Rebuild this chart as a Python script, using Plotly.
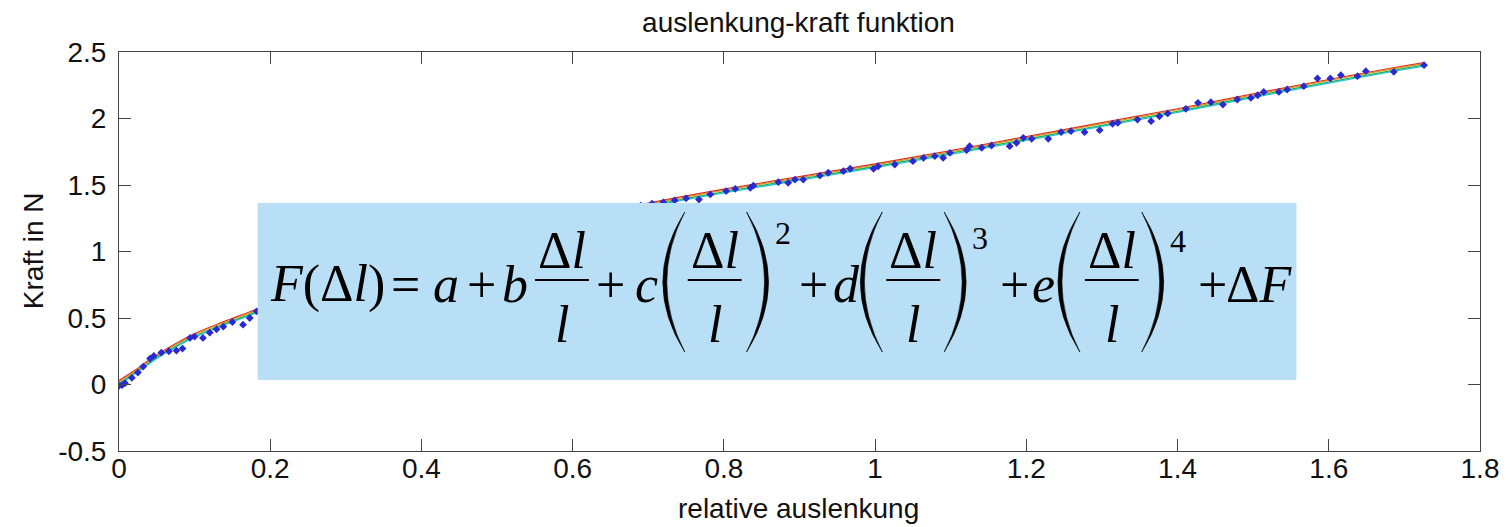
import plotly.graph_objects as go

# Measured deflection / force samples
x_data = [0.000, 0.004, 0.008, 0.017, 0.025, 0.032, 0.041, 0.046, 0.056, 0.066, 0.076, 0.084,
          0.094, 0.100, 0.111, 0.120, 0.129, 0.138, 0.150, 0.164, 0.173, 0.182,
          0.19, 0.21, 0.23, 0.25, 0.27, 0.29, 0.31, 0.33, 0.35, 0.37, 0.39, 0.41, 0.43,
          0.45, 0.47, 0.49, 0.51, 0.53, 0.55, 0.57, 0.59, 0.61, 0.63, 0.65, 0.67, 0.69,
          0.705, 0.720, 0.735, 0.750, 0.767, 0.782, 0.803, 0.815, 0.835, 0.839, 0.872, 0.885,
          0.894, 0.905, 0.927, 0.938, 0.958, 0.967, 0.998, 1.004, 1.026, 1.050, 1.064, 1.079,
          1.090, 1.099, 1.121, 1.125, 1.141, 1.154, 1.178, 1.187, 1.196, 1.207, 1.229, 1.246,
          1.259, 1.277, 1.297, 1.314, 1.321, 1.347, 1.365, 1.376, 1.387, 1.411, 1.427, 1.444,
          1.460, 1.479, 1.497, 1.506, 1.514, 1.534, 1.545, 1.567, 1.585, 1.602, 1.616, 1.638,
          1.649, 1.686, 1.726]
y_data = [-0.010, -0.005, 0.010, 0.050, 0.090, 0.135, 0.195, 0.215, 0.240, 0.250, 0.255, 0.270,
          0.350, 0.360, 0.350, 0.390, 0.415, 0.435, 0.470, 0.450, 0.500, 0.550,
          0.575, 0.605, 0.645, 0.675, 0.720, 0.750, 0.790, 0.820, 0.850, 0.890, 0.915, 0.955, 0.980,
          1.015, 1.050, 1.070, 1.105, 1.120, 1.160, 1.180, 1.215, 1.240, 1.260, 1.295, 1.310, 1.345,
          1.360, 1.370, 1.385, 1.400, 1.391, 1.429, 1.454, 1.471, 1.479, 1.496, 1.521, 1.516,
          1.541, 1.541, 1.571, 1.592, 1.604, 1.622, 1.622, 1.641, 1.654, 1.679, 1.704, 1.717,
          1.704, 1.742, 1.762, 1.792, 1.780, 1.797, 1.792, 1.817, 1.855, 1.847, 1.847, 1.897,
          1.905, 1.897, 1.912, 1.960, 1.968, 1.992, 1.980, 2.017, 2.038, 2.073, 2.118, 2.123,
          2.105, 2.143, 2.155, 2.175, 2.200, 2.200, 2.218, 2.243, 2.301, 2.301, 2.326, 2.318,
          2.356, 2.351, 2.401]

# Polynomial fit curves (evaluated on a grid)
fit_x = [0, 0.02, 0.04, 0.06, 0.08, 0.10, 0.13, 0.16, 0.20, 0.30, 0.40, 0.50, 0.60,
         0.70, 0.80, 0.90, 1.00, 1.10, 1.20, 1.30, 1.40, 1.50, 1.60, 1.70, 1.726]
fit_red = [0.030, 0.103, 0.183, 0.258, 0.323, 0.383, 0.453, 0.518, 0.603, 0.783, 0.948, 1.098,
           1.238, 1.363, 1.468, 1.563, 1.658, 1.758, 1.863, 1.968, 2.073, 2.185, 2.293, 2.396, 2.420]
fit_orange = [0.020, 0.096, 0.176, 0.251, 0.316, 0.376, 0.446, 0.511, 0.596, 0.776, 0.941, 1.091,
              1.231, 1.356, 1.461, 1.556, 1.651, 1.751, 1.856, 1.961, 2.066, 2.178, 2.286, 2.389, 2.413]
fit_green = [0.005, 0.084, 0.164, 0.239, 0.304, 0.364, 0.434, 0.499, 0.584, 0.764, 0.929, 1.079,
             1.219, 1.344, 1.449, 1.544, 1.639, 1.739, 1.844, 1.949, 2.054, 2.166, 2.274, 2.377, 2.401]
fit_cyan = [-0.005, 0.076, 0.156, 0.231, 0.296, 0.356, 0.426, 0.491, 0.576, 0.756, 0.921, 1.071,
            1.211, 1.336, 1.441, 1.536, 1.631, 1.731, 1.836, 1.941, 2.046, 2.158, 2.266, 2.369, 2.393]

x_ticks = [0, 0.2, 0.4, 0.6, 0.8, 1.0, 1.2, 1.4, 1.6, 1.8]
x_labels = ["0", "0.2", "0.4", "0.6", "0.8", "1", "1.2", "1.4", "1.6", "1.8"]
y_ticks = [-0.5, 0, 0.5, 1.0, 1.5, 2.0, 2.5]
y_labels = ["-0.5", "0", "0.5", "1", "1.5", "2", "2.5"]

W, H = 1511, 527
L, R, T, B = 119, 1483, 52, 451   # plot area in pixels


def px(x):
    return (x - L) / (R - L)


def py(y):
    return (B - y) / (B - T)


fig = go.Figure()
for vals, col in [(fit_red, "#e3261f"), (fit_orange, "#d2912a"),
                  (fit_green, "#2fae3c"), (fit_cyan, "#27c3d6")]:
    fig.add_trace(go.Scatter(x=fit_x, y=vals, mode="lines", line=dict(color=col, width=1.3, shape="spline"),
                             hoverinfo="skip", showlegend=False))
fig.add_trace(go.Scatter(x=x_data, y=y_data, mode="markers",
                         marker=dict(symbol="diamond", size=6, color="#2a2ad0", line=dict(width=0)),
                         showlegend=False))

sans = "Liberation Sans, Arial, sans-serif"
serif = "Liberation Serif, Times New Roman, serif"
axis_common = dict(showline=True, mirror="ticks", linecolor="#444444", linewidth=1,
                   ticks="inside", ticklen=12, tickcolor="#444444", showgrid=False, zeroline=False,
                   tickfont=dict(family=sans, size=28, color="#111111"))
fig.update_xaxes(range=[0, 1.8], tickvals=x_ticks, ticktext=x_labels, ticklabelstandoff=-8, **axis_common)
fig.update_yaxes(range=[-0.5, 2.5], tickvals=y_ticks, ticktext=y_labels, ticklabelstandoff=6, **axis_common)

shapes = []
annotations = []

# formula panel
shapes.append(dict(type="rect", xref="paper", yref="paper", x0=px(258), x1=px(1299),
                   y0=py(380), y1=py(203), fillcolor="#b8dff5", line=dict(width=0), layer="above"))

S = 52       # main formula size
SS = 32      # exponent size
K = 0.3375   # baseline-to-centre offset (em)


def txt(s, cx, base, size=S, anchor="center"):
    annotations.append(dict(text=s, xref="paper", yref="paper", x=px(cx), y=py(base - K * size),
                            xanchor=anchor, yanchor="middle", showarrow=False,
                            font=dict(family=serif, size=size, color="black")))


def frac(cx, half=27):
    txt("Δ<i>l</i>", cx, 268)
    txt("<i>l</i>", cx, 342)
    shapes.append(dict(type="line", xref="paper", yref="paper", x0=px(cx - half), x1=px(cx + half),
                       y0=py(280), y1=py(280), line=dict(color="black", width=2.2), layer="above"))


def paren(x_out, left=True, w=22, t=4, top=212, bot=352):
    ym = (top + bot) / 2
    if left:
        tip = x_out + w
        c_out = x_out - w
        c_in = x_out + 2 * t - w
    else:
        tip = x_out - w
        c_out = x_out + w
        c_in = x_out - 2 * t + w
    path = (f"M {px(tip)},{py(top)} Q {px(c_out)},{py(ym)} {px(tip)},{py(bot)} "
            f"Q {px(c_in)},{py(ym)} {px(tip)},{py(top)} Z")
    shapes.append(dict(type="path", xref="paper", yref="paper", path=path,
                       fillcolor="black", line=dict(color="black", width=0.6), layer="above"))


txt("<i>F</i>(Δ<i>l</i>)", 268, 302, anchor="left")
txt("=", 406, 302)
txt("<i>a</i>", 447, 302)
txt("+", 482, 302)
txt("<i>b</i>", 516, 302)
frac(563)
txt("+", 612, 302)
txt("<i>c</i>", 648, 302)
paren(664, True)
frac(716)
paren(770, False)
txt("2", 784, 244, SS)
txt("+", 815, 302)
txt("<i>d</i>", 848, 302)
paren(862, True)
frac(915)
paren(968, False)
txt("3", 982, 249, SS)
txt("+", 1016, 302)
txt("<i>e</i>", 1046, 302)
paren(1060, True)
frac(1114)
paren(1166, False)
txt("4", 1180, 252, SS)
txt("+", 1215, 302)
txt("Δ<i>F</i>", 1262, 302)

# axis titles
annotations.append(dict(text="relative auslenkung", xref="paper", yref="paper", x=px(800), y=py(509),
                        xanchor="center", yanchor="middle", showarrow=False,
                        font=dict(family=sans, size=28, color="#111111")))
annotations.append(dict(text="Kraft in N", xref="paper", yref="paper", x=px(33), y=py(251),
                        xanchor="center", yanchor="middle", textangle=-90, showarrow=False,
                        font=dict(family=sans, size=28, color="#111111")))

fig.update_layout(
    width=W, height=H,
    margin=dict(l=L, r=W - R, t=T, b=H - B),
    paper_bgcolor="white", plot_bgcolor="white",
    title=dict(text="auslenkung-kraft funktion", x=px(800), xref="paper", xanchor="center",
               y=1 - 22 / H, yref="container", yanchor="middle",
               font=dict(family=sans, size=28, color="#111111")),
    shapes=shapes, annotations=annotations, showlegend=False,
)

fig.write_html("out.html")
